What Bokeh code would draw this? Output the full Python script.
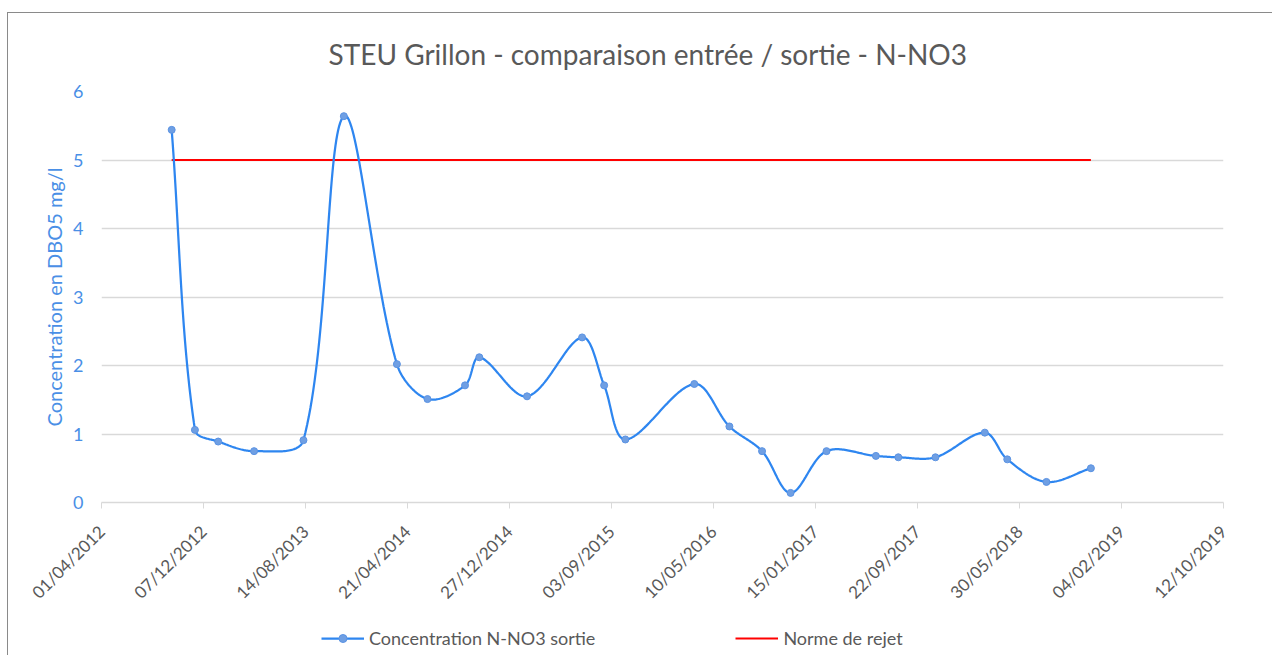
import numpy as np
from bokeh.plotting import figure
from bokeh.layouts import column
from bokeh.models import (Range1d, FixedTicker, DatetimeTickFormatter, Legend, LegendItem)
from bokeh.embed import file_html
from bokeh.resources import INLINE

# ---------------- data ----------------
dates = ["2012-09-20", "2012-11-16", "2013-01-12", "2013-04-10", "2013-08-09",
         "2013-11-16", "2014-03-26", "2014-06-09", "2014-09-09", "2014-10-14",
         "2015-02-08", "2015-06-23", "2015-08-16", "2015-10-07", "2016-03-24",
         "2016-06-18", "2016-09-06", "2016-11-15", "2017-02-11", "2017-06-12",
         "2017-08-06", "2017-11-05", "2018-03-06", "2018-04-30", "2018-08-04",
         "2018-11-21"]
no3_sortie = [5.44, 1.06, 0.89, 0.75, 0.91, 5.64, 2.02, 1.51, 1.71, 2.12,
              1.55, 2.41, 1.71, 0.92, 1.73, 1.11, 0.75, 0.14, 0.75, 0.68,
              0.66, 0.66, 1.02, 0.63, 0.30, 0.50]
norme_rejet = 5.0
tick_dates = ["2012-04-01", "2012-12-07", "2013-08-14", "2014-04-21", "2014-12-27",
              "2015-09-03", "2016-05-10", "2017-01-15", "2017-09-22", "2018-05-30",
              "2019-02-04", "2019-10-12"]
y_ticks = [0, 1, 2, 3, 4, 5, 6]

title_text = "STEU Grillon - comparaison entrée / sortie - N-NO3"
y_label = "Concentration en DBO5 mg/l"
series_label = "Concentration N-NO3 sortie"
norme_label = "Norme de rejet"

# ---------------- layout constants ----------------
FRAME_W, FRAME_H = 1122, 411
Y0, Y1 = 0, 6

def to_ms(d):
    return np.array(d, dtype="datetime64[ms]").astype("int64").astype(float)

x = to_ms(dates)
y = np.array(no3_sortie, dtype=float)
ticks_ms = list(to_ms(tick_dates))
X0, X1 = ticks_ms[0], ticks_ms[-1]

def smooth(xs, ys, n=40):
    # Excel-like smoothed line, computed in screen space (Bezier, length-weighted tangents)
    kx = FRAME_W / (X1 - X0)
    ky = FRAME_H / (Y1 - Y0)
    P = np.column_stack([(xs - X0) * kx, (ys - Y0) * ky])
    m = len(P)
    out = []
    for i in range(m - 1):
        p0 = P[i - 1] if i > 0 else P[i]
        p1, p2 = P[i], P[i + 1]
        p3 = P[i + 2] if i + 2 < m else P[i + 1]
        d01 = np.hypot(*(p1 - p0)); d12 = np.hypot(*(p2 - p1)); d23 = np.hypot(*(p3 - p2))
        f1 = d12 / (d01 + d12) / 3.0 if (d01 + d12) > 0 else 0
        f2 = d12 / (d12 + d23) / 3.0 if (d12 + d23) > 0 else 0
        c1 = p1 + (p2 - p0) * f1
        c2 = p2 - (p3 - p1) * f2
        t = np.linspace(0, 1, n, endpoint=(i == m - 2))[:, None]
        seg = ((1 - t) ** 3) * p1 + 3 * ((1 - t) ** 2) * t * c1 + 3 * (1 - t) * t ** 2 * c2 + t ** 3 * p2
        out.append(seg)
    out = np.vstack(out)
    return out[:, 0] / kx + X0, out[:, 1] / ky + Y0

sx, sy = smooth(x, y)

FONT = "Lato"
GRAY = "#595959"
BLUE_TXT = "#4a8fe6"
LINE_BLUE = "#2e86f0"
RED = "#ff0000"
PT_FILL, PT_LINE = "#6f9fe3", "#5b93e3"

p = figure(width=1264, height=607, output_backend="svg", toolbar_location=None,
           x_axis_type="datetime",
           x_range=Range1d(X0, X1), y_range=Range1d(Y0, Y1),
           min_border_left=93, min_border_right=49, min_border_top=70, min_border_bottom=123)
p.frame_width = FRAME_W
p.frame_height = FRAME_H

p.title.text = title_text
p.title.align = "left"
p.title.offset = 227
p.title.text_font = FONT
p.title.text_font_size = "28px"
p.title.text_font_style = "normal"
p.title.text_color = GRAY
p.title.standoff = 42

p.outline_line_color = None
p.background_fill_color = "white"
p.border_fill_color = "white"

# grid
p.xgrid.grid_line_color = None
p.ygrid.grid_line_color = "#d9d9d9"
p.ygrid.grid_line_width = 1.5
p.ygrid.ticker = FixedTicker(ticks=y_ticks)

# y axis
p.yaxis.ticker = FixedTicker(ticks=y_ticks)
p.yaxis.axis_line_color = None
p.yaxis.major_tick_line_color = None
p.yaxis.minor_tick_line_color = None
p.yaxis.major_label_text_color = BLUE_TXT
p.yaxis.major_label_text_font = FONT
p.yaxis.major_label_text_font_size = "18px"
p.yaxis.major_label_standoff = 12
p.yaxis.axis_label = y_label
p.yaxis.axis_label_text_color = BLUE_TXT
p.yaxis.axis_label_text_font = FONT
p.yaxis.axis_label_text_font_size = "20px"
p.yaxis.axis_label_text_font_style = "normal"
p.yaxis.axis_label_standoff = 4

# x axis
p.xaxis.ticker = FixedTicker(ticks=ticks_ms)
fmt = "%d/%m/%Y"
p.xaxis.formatter = DatetimeTickFormatter(milliseconds=fmt, seconds=fmt, minsec=fmt, minutes=fmt,
                                          hourmin=fmt, hours=fmt, days=fmt, months=fmt, years=fmt)
p.xaxis.axis_line_color = "#d9d9d9"
p.xaxis.axis_line_width = 1.5
p.xaxis.major_tick_line_color = "#d9d9d9"
p.xaxis.major_tick_out = 6
p.xaxis.major_tick_in = 0
p.xaxis.minor_tick_line_color = None
p.xaxis.major_label_orientation = np.pi / 4
p.xaxis.major_label_text_color = GRAY
p.xaxis.major_label_text_font = FONT
p.xaxis.major_label_text_font_size = "17px"
p.xaxis.major_label_standoff = 20

# series
p.line(x, [norme_rejet] * len(x), line_color=RED, line_width=2)
p.line(sx, sy, line_color=LINE_BLUE, line_width=2.25)
p.scatter(x, y, size=7, fill_color=PT_FILL, line_color=PT_LINE, line_width=1)

# legend strip (separate figure so the legend is not clipped); same series, out of its view
lg = figure(width=1264, height=30, output_backend="svg", toolbar_location=None,
            x_range=Range1d(0, 1), y_range=Range1d(0, 1),
            x_axis_location=None, y_axis_location=None, min_border=0)
lg.grid.grid_line_color = None
lg.outline_line_color = None
lg.border_fill_color = "white"
lb = lg.line(sx, sy, line_color=LINE_BLUE, line_width=2.25)
ls = lg.scatter(x, y, size=7, fill_color=PT_FILL, line_color=PT_LINE, line_width=1)
lr = lg.line(x, [norme_rejet] * len(x), line_color=RED, line_width=2)
legend = Legend(items=[LegendItem(label=series_label, renderers=[lb, ls]),
                       LegendItem(label=norme_label, renderers=[lr])],
                orientation="horizontal", location=(220, 6),
                label_text_font=FONT, label_text_font_size="18px", label_text_color=GRAY,
                glyph_width=43, glyph_height=20, label_height=20, label_standoff=5, spacing=140,
                border_line_color=None, background_fill_alpha=0, margin=0, padding=0)
lg.add_layout(legend, "center")

layout = column(p, lg, spacing=0)
layout.styles = {"border-left": "1px solid #8a8a8a", "border-top": "1px solid #8a8a8a",
                 "margin-top": "12px", "margin-left": "7px"}

open("out.html", "w").write(file_html(layout, INLINE))
